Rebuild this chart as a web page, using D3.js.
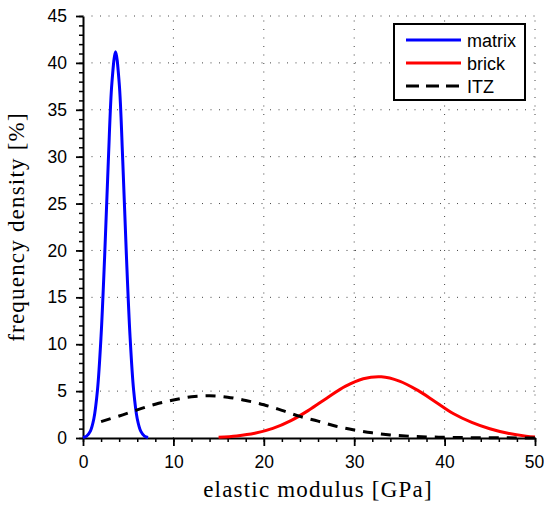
<!DOCTYPE html>
<html>
<head>
<meta charset="utf-8">
<script src="https://cdn.jsdelivr.net/npm/d3@7"></script>
<style>
  body { margin: 0; background: #fff; }
  svg { display: block; }
</style>
</head>
<body>
<script>
// elastic modulus distributions: matrix / brick / ITZ

const width = 544, height = 509;
const margin = {top: 16, right: 9, bottom: 71, left: 83};

// values (x in GPa, y in %)
const matrixX = [0, 0.4, 0.8, 1.2, 1.6, 2.0, 2.4, 2.8, 3.2, 3.6, 4.0, 4.4, 4.8, 5.2, 5.6, 6.0, 6.4, 6.8, 7.2];
const matrixY = [0.05, 0.2, 0.7, 2.05, 5.1, 10.9, 19.5, 29.5, 37.9, 41.2, 37.9, 29.5, 19.5, 10.9, 5.1, 2.05, 0.7, 0.2, 0.05];

const brickX = [15, 17, 19, 21, 23, 25, 27, 29, 31, 33, 35, 37, 39, 41, 43, 45, 47, 49, 50];
const brickY = [0.08, 0.22, 0.5, 1.02, 1.85, 2.98, 4.27, 5.5, 6.32, 6.53, 6.07, 5.1, 3.85, 2.58, 1.66, 0.98, 0.5, 0.2, 0.12];

const itzX = [2, 4, 6, 8, 10, 12, 14, 16, 18, 20, 22, 24, 26, 28, 30, 32, 34, 36, 38, 40, 42, 44, 46, 48, 50];
const itzY = [1.75, 2.35, 3.0, 3.6, 4.05, 4.4, 4.5, 4.35, 4.0, 3.55, 2.95, 2.3, 1.8, 1.25, 0.85, 0.55, 0.33, 0.2, 0.12, 0.08, 0.05, 0.03, 0.02, 0.01, 0.0];

const xTicks = [0, 10, 20, 30, 40, 50];
const yTicks = [0, 5, 10, 15, 20, 25, 30, 35, 40, 45];

const series = [
  {name: "matrix", xs: matrixX, ys: matrixY, color: "#0000ff", dash: null},
  {name: "brick",  xs: brickX,  ys: brickY,  color: "#ff0000", dash: null},
  {name: "ITZ",    xs: itzX,    ys: itzY,    color: "#000000", dash: "10,8"}
];

const svg = d3.select("body").append("svg")
    .attr("width", width)
    .attr("height", height);

const x = d3.scaleLinear().domain([0, 50]).range([margin.left, width - margin.right]);
const y = d3.scaleLinear().domain([0, 45]).range([height - margin.bottom, margin.top]);

// dotted grid
const grid = svg.append("g")
    .attr("stroke", "#444")
    .attr("stroke-width", 1)
    .attr("stroke-dasharray", "1,7.5");

grid.selectAll(".gx").data(xTicks.filter(d => d > 0)).join("line")
    .attr("x1", d => x(d)).attr("x2", d => x(d))
    .attr("y1", y(0)).attr("y2", y(45));

grid.selectAll(".gy").data(yTicks.filter(d => d > 0)).join("line")
    .attr("y1", d => y(d)).attr("y2", d => y(d))
    .attr("x1", x(0)).attr("x2", x(50));

// minor ticks
svg.append("g")
    .attr("transform", `translate(0,${y(0)})`)
    .call(d3.axisBottom(x).tickValues(d3.range(0, 51, 2)).tickSize(4).tickFormat(""))
    .call(g => g.select(".domain").remove())
    .call(g => g.selectAll("line").attr("stroke-width", 1.5));

svg.append("g")
    .attr("transform", `translate(${x(0)},0)`)
    .call(d3.axisLeft(y).tickValues(d3.range(0, 46, 1)).tickSize(4).tickFormat(""))
    .call(g => g.select(".domain").remove())
    .call(g => g.selectAll("line").attr("stroke-width", 1.5));

// major axes
const xAxis = svg.append("g")
    .attr("transform", `translate(0,${y(0)})`)
    .call(d3.axisBottom(x).tickValues(xTicks).tickSize(8).tickSizeOuter(0).tickPadding(10));

const yAxis = svg.append("g")
    .attr("transform", `translate(${x(0)},0)`)
    .call(d3.axisLeft(y).tickValues(yTicks).tickSize(7).tickSizeOuter(0).tickPadding(9));

[xAxis, yAxis].forEach(g => {
  g.select(".domain").attr("stroke-width", 2);
  g.selectAll(".tick line").attr("stroke-width", 1.8);
  g.selectAll("text")
    .attr("font-family", "Liberation Sans, Arial, sans-serif")
    .attr("font-size", 17.5)
    .attr("fill", "#000");
});
// keep the last x label inside the window
xAxis.selectAll(".tick:last-of-type text").attr("dx", -1);

// curves
const line = d3.line()
    .x(d => x(d[0]))
    .y(d => y(d[1]))
    .curve(d3.curveCatmullRom);

svg.append("g").selectAll("path").data(series).join("path")
    .attr("d", s => line(s.xs.map((v, i) => [v, s.ys[i]])))
    .attr("fill", "none")
    .attr("stroke", s => s.color)
    .attr("stroke-width", 3)
    .attr("stroke-dasharray", s => s.dash);

// axis labels
svg.append("text")
    .attr("x", 318)
    .attr("y", 497)
    .attr("text-anchor", "middle")
    .attr("font-family", "Liberation Serif, Times New Roman, serif")
    .attr("font-size", 23)
    .attr("letter-spacing", 1.2)
    .text("elastic modulus [GPa]");

svg.append("text")
    .attr("transform", `translate(24,${(y(0) + y(45)) / 2}) rotate(-90)`)
    .attr("text-anchor", "middle")
    .attr("font-family", "Liberation Serif, Times New Roman, serif")
    .attr("font-size", 23)
    .attr("letter-spacing", 1.2)
    .text("frequency density [%]");

// legend
const legend = svg.append("g");
legend.append("rect")
    .attr("x", 394).attr("y", 24)
    .attr("width", 131).attr("height", 76)
    .attr("fill", "#fff")
    .attr("stroke", "#000")
    .attr("stroke-width", 2);

const rows = legend.selectAll(".row").data(series).join("g")
    .attr("transform", (d, i) => `translate(0,${40 + i * 23})`);

rows.append("line")
    .attr("x1", 406).attr("x2", 461)
    .attr("stroke", d => d.color)
    .attr("stroke-width", 3)
    .attr("stroke-dasharray", d => d.dash ? "13,7" : null);

rows.append("text")
    .attr("x", 467)
    .attr("y", 6.5)
    .attr("font-family", "Liberation Sans, Arial, sans-serif")
    .attr("font-size", 18)
    .text(d => d.name);
</script>
</body>
</html>
